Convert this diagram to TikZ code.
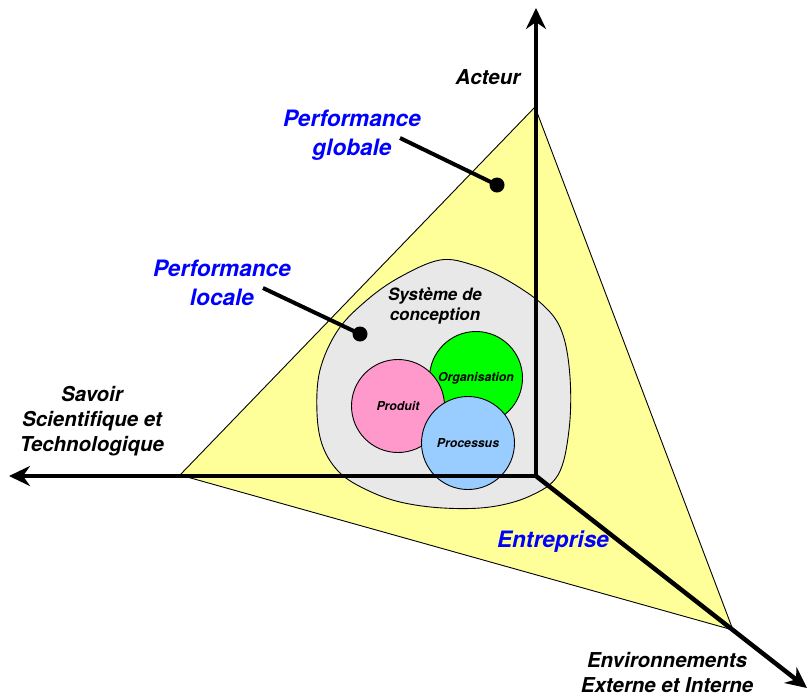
\documentclass[tikz,border=0pt]{standalone}
\usepackage{fontspec}
\setmainfont{TeX Gyre Heros}
\usetikzlibrary{arrows.meta}
\definecolor{triyellow}{HTML}{FFFF99}
\definecolor{blobgray}{HTML}{E8E8E8}
\definecolor{prodpink}{HTML}{FF99CC}
\definecolor{orggreen}{HTML}{00FF00}
\definecolor{procblue}{HTML}{99CCFF}
\definecolor{perfblue}{HTML}{0000FF}
\tikzset{
  axisline/.style={line width=4.5pt,-{Stealth[length=21pt,width=20pt,inset=7pt]}},
  outline/.style={draw=black,line width=0.9pt},
  comp/.style={circle,outline,minimum size=93pt,inner sep=0pt,font=\fontsize{12.3}{14}\selectfont\bfseries\itshape},
  perflabel/.style={text=perfblue,align=center,font=\fontsize{22.6}{29}\selectfont\bfseries\itshape},
  axislabel/.style={text=black,align=center,font=\fontsize{20.5}{25}\selectfont\bfseries\itshape},
  dotmark/.style={circle,fill=black,minimum size=15pt,inner sep=0pt},
  leader/.style={line width=4pt}
}
\begin{document}
\begin{tikzpicture}[x=1pt,y=-1pt]
\useasboundingbox (0,0) rectangle (808,697);
% triangle
\coordinate (tA) at (535,107);
\coordinate (tB) at (180,475);
\coordinate (tC) at (733,630);
\filldraw[fill=triyellow,outline] (tA) -- (tB) -- (tC) -- cycle;
% blob
\filldraw[fill=blobgray,outline] plot[smooth cycle,tension=0.6] coordinates {
 (440,260) (473,265) (507,280) (543,305) (562,332) (570,377) (569,430) (558,475)
 (530,496) (490,507) (443,508) (400,502) (367,490) (340,473) (323,447) (317,413)
 (320,370) (338,330) (367,300) (400,277)};
% components
\node[comp,fill=orggreen] (org) at (476,378) {Organisation};
\node[comp,fill=prodpink] (prod) at (398,406) {Produit};
\node[comp,fill=procblue] (proc) at (468,443) {Processus};
% axes
\coordinate (O) at (536,476);
\coordinate (axTop) at (536,8);
\coordinate (axLeft) at (9,476);
\coordinate (axDiag) at (807,688);
\draw[axisline] (O) -- (axTop);
\draw[axisline] (O) -- (axLeft);
\draw[axisline] (O) -- (axDiag);
% labels
\node[axislabel] (acteur) at (488,77) {Acteur};
\node[axislabel] (savoir) at (92,421) {Savoir\\Scientifique et\\Technologique};
\node[axislabel] (env) at (667,672) {Environnements\\Externe et Interne};
\node[align=center,font=\fontsize{17}{19.5}\selectfont\bfseries\itshape] (sys) at (435,306) {Système de\\conception};
\node[perflabel] (entr) at (553,542) {Entreprise};
\node[perflabel] (pglob) at (352,135) {Performance\\globale};
\node[perflabel] (ploc) at (222,283) {Performance\\locale};
% leaders
\coordinate (gStart) at (400,138);
\node[dotmark] (gDot) at (497,185) {};
\draw[leader] (gStart) -- (gDot.center);
\coordinate (lStart) at (263,288);
\node[dotmark] (lDot) at (360,334) {};
\draw[leader] (lStart) -- (lDot.center);
\end{tikzpicture}
\end{document}
